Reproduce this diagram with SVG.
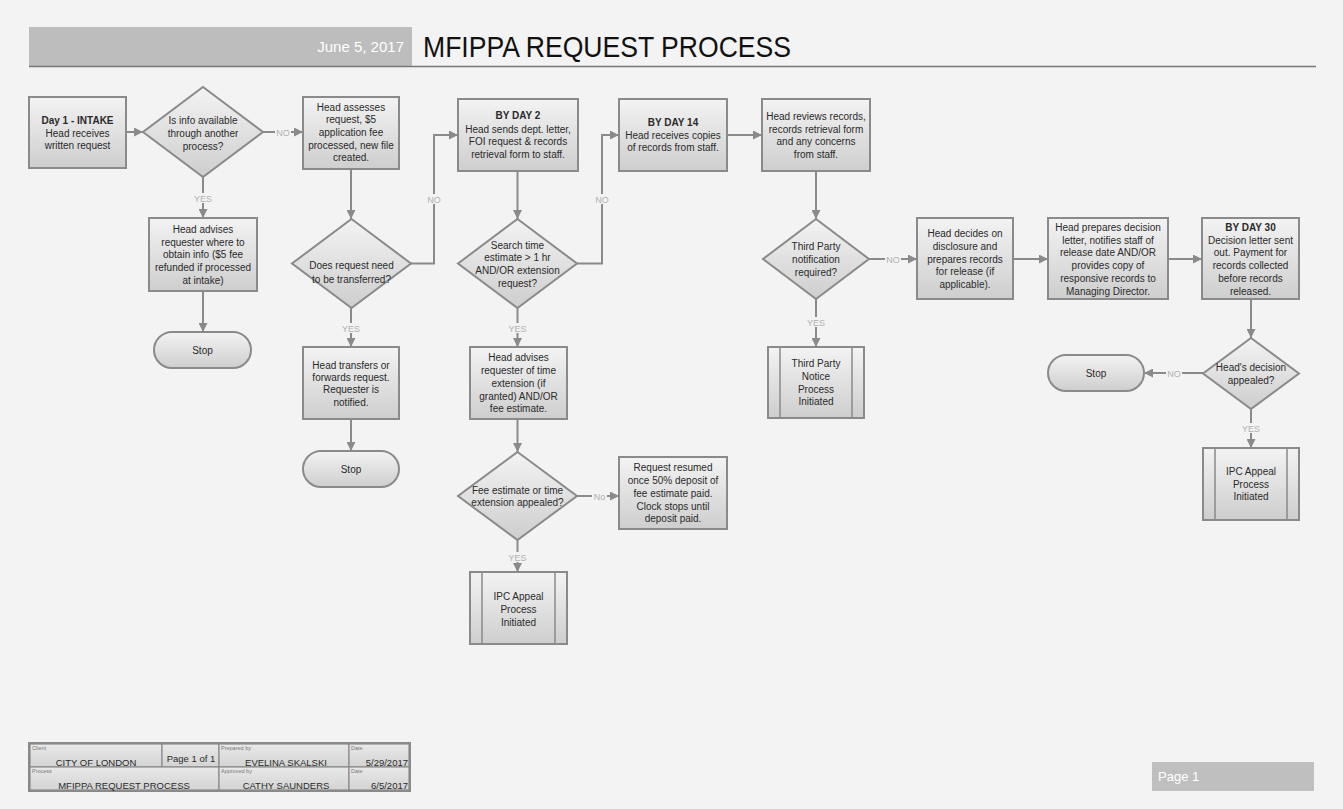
<svg xmlns="http://www.w3.org/2000/svg" width="1343" height="809" viewBox="0 0 1343 809">
<defs>
<linearGradient id="gBox" x1="0" y1="0" x2="0" y2="1">
<stop offset="0" stop-color="#f3f3f3"/>
<stop offset="1" stop-color="#cecece"/>
</linearGradient>
<linearGradient id="gCell" x1="0" y1="0" x2="0" y2="1">
<stop offset="0" stop-color="#e9e9e9"/>
<stop offset="1" stop-color="#d3d3d3"/>
</linearGradient>
<marker id="ah" viewBox="0 0 10 10" refX="10" refY="5" markerWidth="4.5" markerHeight="4.5" orient="auto">
<path d="M0,0 L10,5 L0,10 z" fill="#8a8a8a"/>
</marker>
<style>
.shape{fill:url(#gBox);stroke:#8a8a8a;stroke-width:2}
.inner{stroke:#8a8a8a;stroke-width:1.5;fill:none}
.t{font-family:"Liberation Sans",Arial,sans-serif;font-size:10px;fill:#2a2a2a;text-anchor:middle}
.b{font-weight:bold;font-size:10px}
.conn{fill:none;stroke:#8a8a8a;stroke-width:2;marker-end:url(#ah)}
.lbg{fill:#f3f3f3}
.lbl{font-family:"Liberation Sans",Arial,sans-serif;font-size:9px;fill:#b0b0b0;text-anchor:middle}
.cell{fill:url(#gCell);stroke:#8a8a8a;stroke-width:1.2}
.small{font-family:"Liberation Sans",Arial,sans-serif;font-size:5.5px;fill:#777}
.val{font-family:"Liberation Sans",Arial,sans-serif;font-size:9.5px;fill:#2a2a2a}
</style>
</defs>
<rect x="0" y="0" width="1343" height="809" fill="#f3f3f3"/>

<g id="header">
<rect x="29" y="27" width="383" height="39" fill="#bdbdbd"/>
<line x1="29" y1="66.5" x2="1316" y2="66.5" stroke="#777" stroke-width="1.5"/>
<text x="404" y="52" font-family="'Liberation Sans',Arial,sans-serif" font-size="15" fill="#ffffff" text-anchor="end">June 5, 2017</text>
<text x="423" y="57" font-family="'Liberation Sans',Arial,sans-serif" font-size="30" fill="#111" textLength="368" lengthAdjust="spacingAndGlyphs">MFIPPA REQUEST PROCESS</text>
</g>

<g id="connectors">
<path class="conn" d="M126,132 H143"/>
<path class="conn" d="M263,132 H303"/>
<path class="conn" d="M203,177 V218"/>
<path class="conn" d="M203,291 V332"/>
<path class="conn" d="M351,169 V219"/>
<path class="conn" d="M411,263.5 H434 V135 H458"/>
<path class="conn" d="M351,308 V347"/>
<path class="conn" d="M351,419 V451"/>
<path class="conn" d="M517.5,171 V219"/>
<path class="conn" d="M577,263.5 H602 V135 H619"/>
<path class="conn" d="M517.5,308 V347"/>
<path class="conn" d="M517.5,419 V452"/>
<path class="conn" d="M577,496 H619"/>
<path class="conn" d="M517.5,540 V572"/>
<path class="conn" d="M727,135 H762"/>
<path class="conn" d="M816,171 V219"/>
<path class="conn" d="M869,259 H917"/>
<path class="conn" d="M816,299 V347"/>
<path class="conn" d="M1013,259 H1048"/>
<path class="conn" d="M1168,259 H1202"/>
<path class="conn" d="M1251,299 V338"/>
<path class="conn" d="M1203,373 H1144"/>
<path class="conn" d="M1251,409 V448"/>
<g id="conn-labels">
<rect class="lbg" x="275" y="127" width="16" height="10"/><text class="lbl" x="283" y="135.5">NO</text>
<rect class="lbg" x="193" y="193" width="20" height="10"/><text class="lbl" x="203" y="201.5">YES</text>
<rect class="lbg" x="426" y="194" width="16" height="10"/><text class="lbl" x="434" y="202.5">NO</text>
<rect class="lbg" x="341" y="323" width="20" height="10"/><text class="lbl" x="351" y="331.5">YES</text>
<rect class="lbg" x="594" y="194" width="16" height="10"/><text class="lbl" x="602" y="202.5">NO</text>
<rect class="lbg" x="507.5" y="323" width="20" height="10"/><text class="lbl" x="517.5" y="331.5">YES</text>
<rect class="lbg" x="592" y="491" width="15" height="10"/><text class="lbl" x="599.5" y="499.5">No</text>
<rect class="lbg" x="507.5" y="552" width="20" height="10"/><text class="lbl" x="517.5" y="560.5">YES</text>
<rect class="lbg" x="885" y="254" width="16" height="10"/><text class="lbl" x="893" y="262.5">NO</text>
<rect class="lbg" x="806" y="317" width="20" height="10"/><text class="lbl" x="816" y="325.5">YES</text>
<rect class="lbg" x="1166" y="368" width="16" height="10"/><text class="lbl" x="1174" y="376.5">NO</text>
<rect class="lbg" x="1241" y="423" width="20" height="10"/><text class="lbl" x="1251" y="431.5">YES</text>
</g>
</g>

<g id="n-intake">
<rect class="shape" x="29" y="97" width="97" height="71"/>
<text class="t"><tspan class="b" x="77.5" y="123.5">Day 1 - INTAKE</tspan><tspan x="77.5" y="136.5">Head receives</tspan><tspan x="77.5" y="148.5">written request</tspan></text>
</g>

<g id="d-info-available">
<polygon class="shape" points="203,87 263,132 203,177 143,132"/>
<text class="t"><tspan x="203" y="123.5">Is info available</tspan><tspan x="203" y="136.5">through another</tspan><tspan x="203" y="149.5">process?</tspan></text>
</g>

<g id="n-assess">
<rect class="shape" x="303" y="97" width="96" height="72"/>
<text class="t"><tspan x="351" y="110.5">Head assesses</tspan><tspan x="351" y="123">request, $5</tspan><tspan x="351" y="135.5">application fee</tspan><tspan x="351" y="148.5">processed, new file</tspan><tspan x="351" y="161">created.</tspan></text>
</g>

<g id="n-advise-where">
<rect class="shape" x="149" y="218" width="108" height="73"/>
<text class="t"><tspan x="203" y="232.5">Head advises</tspan><tspan x="203" y="245.5">requester where to</tspan><tspan x="203" y="258">obtain info ($5 fee</tspan><tspan x="203" y="270.5">refunded if processed</tspan><tspan x="203" y="283.5">at intake)</tspan></text>
</g>

<g id="stop-1">
<rect class="shape" x="154" y="332" width="97" height="36" rx="18" ry="18"/>
<text class="t" x="202.5" y="353.5">Stop</text>
</g>

<g id="d-transfer">
<polygon class="shape" points="351.5,219 411,263.5 351.5,308 292,263.5"/>
<text class="t"><tspan x="351.5" y="269">Does request need</tspan><tspan x="351.5" y="282.5">to be transferred?</tspan></text>
</g>

<g id="n-transfer">
<rect class="shape" x="303" y="347" width="96" height="72"/>
<text class="t"><tspan x="351" y="368.5">Head transfers or</tspan><tspan x="351" y="380.5">forwards request.</tspan><tspan x="351" y="393">Requester is</tspan><tspan x="351" y="406">notified.</tspan></text>
</g>

<g id="stop-2">
<rect class="shape" x="303" y="451" width="96" height="36" rx="18" ry="18"/>
<text class="t" x="351" y="472.5">Stop</text>
</g>

<g id="n-day2">
<rect class="shape" x="458" y="99" width="120" height="72"/>
<text class="t"><tspan class="b" x="518" y="118.5">BY DAY 2</tspan><tspan x="518" y="132.5">Head sends dept. letter,</tspan><tspan x="518" y="145">FOI request &amp; records</tspan><tspan x="518" y="157.5">retrieval form to staff.</tspan></text>
</g>

<g id="d-search-time">
<polygon class="shape" points="517.5,219 577,263.5 517.5,308 458,263.5"/>
<text class="t"><tspan x="517.5" y="248.5">Search time</tspan><tspan x="517.5" y="261">estimate &gt; 1 hr</tspan><tspan x="517.5" y="273.5">AND/OR extension</tspan><tspan x="517.5" y="286.5">request?</tspan></text>
</g>

<g id="n-advise-extension">
<rect class="shape" x="470" y="347" width="97" height="72"/>
<text class="t"><tspan x="518.5" y="361">Head advises</tspan><tspan x="518.5" y="374">requester of time</tspan><tspan x="518.5" y="386.5">extension (if</tspan><tspan x="518.5" y="399.5">granted) AND/OR</tspan><tspan x="518.5" y="412">fee estimate.</tspan></text>
</g>

<g id="d-fee-appealed">
<polygon class="shape" points="517.5,452 577,496 517.5,540 458,496"/>
<text class="t"><tspan x="517.5" y="493.5">Fee estimate or time</tspan><tspan x="517.5" y="506">extension appealed?</tspan></text>
</g>

<g id="n-resumed">
<rect class="shape" x="619" y="457" width="108" height="72"/>
<text class="t"><tspan x="673" y="471">Request resumed</tspan><tspan x="673" y="484">once 50% deposit of</tspan><tspan x="673" y="496.5">fee estimate paid.</tspan><tspan x="673" y="509.5">Clock stops until</tspan><tspan x="673" y="522">deposit paid.</tspan></text>
</g>

<g id="p-ipc-1">
<rect class="shape" x="470" y="572" width="97" height="72"/>
<line class="inner" x1="482" y1="572" x2="482" y2="644"/>
<line class="inner" x1="555" y1="572" x2="555" y2="644"/>
<text class="t"><tspan x="518.5" y="599.5">IPC Appeal</tspan><tspan x="518.5" y="612.5">Process</tspan><tspan x="518.5" y="625.5">Initiated</tspan></text>
</g>

<g id="n-day14">
<rect class="shape" x="619" y="99" width="108" height="72"/>
<text class="t"><tspan class="b" x="673" y="125.5">BY DAY 14</tspan><tspan x="673" y="138.5">Head receives copies</tspan><tspan x="673" y="151">of records from staff.</tspan></text>
</g>

<g id="n-review">
<rect class="shape" x="762" y="99" width="108" height="72"/>
<text class="t"><tspan x="816" y="119.5">Head reviews records,</tspan><tspan x="816" y="132.5">records retrieval form</tspan><tspan x="816" y="145">and any concerns</tspan><tspan x="816" y="157.5">from staff.</tspan></text>
</g>

<g id="d-third-party">
<polygon class="shape" points="816,219 869,259 816,299 763,259"/>
<text class="t"><tspan x="816" y="249.5">Third Party</tspan><tspan x="816" y="262.5">notification</tspan><tspan x="816" y="275.5">required?</tspan></text>
</g>

<g id="p-third-party">
<rect class="shape" x="768" y="347" width="96" height="71"/>
<line class="inner" x1="780" y1="347" x2="780" y2="418"/>
<line class="inner" x1="852" y1="347" x2="852" y2="418"/>
<text class="t"><tspan x="816" y="367">Third Party</tspan><tspan x="816" y="380">Notice</tspan><tspan x="816" y="392.5">Process</tspan><tspan x="816" y="405">Initiated</tspan></text>
</g>

<g id="n-decide">
<rect class="shape" x="917" y="218" width="96" height="81"/>
<text class="t"><tspan x="965" y="237">Head decides on</tspan><tspan x="965" y="249.5">disclosure and</tspan><tspan x="965" y="262.5">prepares records</tspan><tspan x="965" y="275">for release (if</tspan><tspan x="965" y="288">applicable).</tspan></text>
</g>

<g id="n-decision-letter">
<rect class="shape" x="1048" y="218" width="120" height="81"/>
<text class="t"><tspan x="1108" y="231">Head prepares decision</tspan><tspan x="1108" y="243.5">letter, notifies staff of</tspan><tspan x="1108" y="256">release date AND/OR</tspan><tspan x="1108" y="269">provides copy of</tspan><tspan x="1108" y="282">responsive records to</tspan><tspan x="1108" y="294.5">Managing Director.</tspan></text>
</g>

<g id="n-day30">
<rect class="shape" x="1202" y="218" width="97" height="81"/>
<text class="t"><tspan class="b" x="1250.5" y="231">BY DAY 30</tspan><tspan x="1250.5" y="243.5">Decision letter sent</tspan><tspan x="1250.5" y="256">out. Payment for</tspan><tspan x="1250.5" y="269">records collected</tspan><tspan x="1250.5" y="282">before records</tspan><tspan x="1250.5" y="294.5">released.</tspan></text>
</g>

<g id="d-decision-appealed">
<polygon class="shape" points="1251,338 1299,373.5 1251,409 1203,373.5"/>
<text class="t"><tspan x="1251" y="371">Head's decision</tspan><tspan x="1251" y="383.5">appealed?</tspan></text>
</g>

<g id="stop-3">
<rect class="shape" x="1048" y="355" width="96" height="36" rx="18" ry="18"/>
<text class="t" x="1096" y="376.5">Stop</text>
</g>

<g id="p-ipc-2">
<rect class="shape" x="1203" y="448" width="96" height="72"/>
<line class="inner" x1="1215" y1="448" x2="1215" y2="520"/>
<line class="inner" x1="1287" y1="448" x2="1287" y2="520"/>
<text class="t"><tspan x="1251" y="475">IPC Appeal</tspan><tspan x="1251" y="487.5">Process</tspan><tspan x="1251" y="500">Initiated</tspan></text>
</g>

<g id="footer">
<rect x="29" y="743" width="381" height="48" fill="none" stroke="#8a8a8a" stroke-width="2"/>
<rect class="cell" x="30" y="744" width="132" height="23"/>
<rect class="cell" x="162" y="744" width="57" height="23"/>
<rect class="cell" x="219" y="744" width="130" height="23"/>
<rect class="cell" x="349" y="744" width="60" height="23"/>
<rect class="cell" x="30" y="767" width="189" height="23"/>
<rect class="cell" x="219" y="767" width="130" height="23"/>
<rect class="cell" x="349" y="767" width="60" height="23"/>
<text class="small" x="32" y="750">Client</text>
<text class="small" x="221" y="750">Prepared by</text>
<text class="small" x="351" y="750">Date</text>
<text class="small" x="32" y="773">Process</text>
<text class="small" x="221" y="773">Approved by</text>
<text class="small" x="351" y="773">Date</text>
<text class="val" x="96" y="765.5" text-anchor="middle">CITY OF LONDON</text>
<text class="val" x="191" y="762" text-anchor="middle" font-size="10">Page 1 of 1</text>
<text class="val" x="286" y="765.5" text-anchor="middle">EVELINA SKALSKI</text>
<text class="val" x="408" y="765.5" text-anchor="end" font-size="11.5">5/29/2017</text>
<text class="val" x="124" y="788.5" text-anchor="middle" font-size="9">MFIPPA REQUEST PROCESS</text>
<text class="val" x="286" y="788.5" text-anchor="middle">CATHY SAUNDERS</text>
<text class="val" x="408" y="788.5" text-anchor="end" font-size="11.5">6/5/2017</text>
</g>

<g id="page-label">
<rect x="1152" y="762" width="162" height="29" fill="#bfbfbf"/>
<text x="1158" y="781" font-family="'Liberation Sans',Arial,sans-serif" font-size="13" fill="#ffffff">Page 1</text>
</g>
</svg>
